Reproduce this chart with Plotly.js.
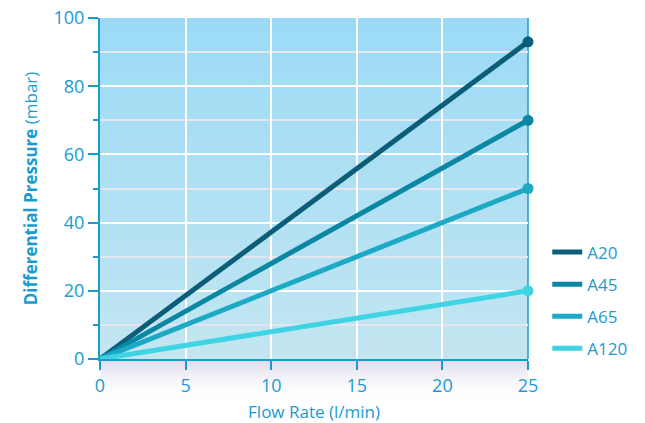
<!DOCTYPE html>
<html><head><meta charset="utf-8">
<script src="https://cdn.plot.ly/plotly-3.0.1.min.js"></script>
<style>html,body{margin:0;padding:0;background:#fff}#c{width:645px;height:423px}</style>
</head><body><div id="c"></div>
<script>
const flowRate = [0, 25];
const seriesNames = ['A20', 'A45', 'A65', 'A120'];
const A20 = [0, 93];
const A45 = [0, 70];
const A65 = [0, 50];
const A120 = [0, 20];
const seriesValues = [A20, A45, A65, A120];
const colors = ['#0b5d78', '#0b87a3', '#1ba9c5', '#3fd4e4'];
const xTicks = [0, 5, 10, 15, 20, 25];
const yTicks = [0, 20, 40, 60, 80, 100];

const axisBlue = '#1a9bd0';
const traces = [];
seriesNames.forEach((n, i) => {
  traces.push({
    x: flowRate, y: seriesValues[i], name: n, type: 'scatter', mode: 'lines',
    legendgroup: n, line: {color: colors[i], width: 5}, cliponaxis: false
  });
});
seriesNames.forEach((n, i) => {
  traces.push({
    x: flowRate.slice(-1), y: seriesValues[i].slice(-1), name: n, type: 'scatter', mode: 'markers',
    legendgroup: n, showlegend: false,
    marker: {color: colors[i], size: 11, line: {width: 0}}, cliponaxis: false
  });
});

const grad = 'data:image/svg+xml;base64,' + btoa('<svg xmlns="http://www.w3.org/2000/svg" width="100" height="100" preserveAspectRatio="none"><defs><linearGradient id="g" x1="0" y1="0" x2="0" y2="1"><stop offset="0" stop-color="#9bdaf6"/><stop offset="1" stop-color="#c3e6f1"/></linearGradient></defs><rect width="100" height="100" fill="url(#g)"/></svg>');
const shade = 'data:image/svg+xml;base64,' + btoa('<svg xmlns="http://www.w3.org/2000/svg" width="100" height="100" preserveAspectRatio="none"><defs><linearGradient id="g" x1="0" y1="0" x2="0" y2="1"><stop offset="0" stop-color="#dcd8ea"/><stop offset="1" stop-color="#ffffff" stop-opacity="0"/></linearGradient></defs><rect width="100" height="100" fill="url(#g)"/></svg>');

const layout = {
  width: 645, height: 423,
  margin: {l: 100, r: 117, t: 18, b: 64},
  paper_bgcolor: '#ffffff', plot_bgcolor: 'rgba(0,0,0,0)',
  font: {family: 'Open Sans, sans-serif', size: 17, color: axisBlue},
  showlegend: true,
  legend: {x: 1.045, xanchor: 'left', y: -0.022, yanchor: 'bottom', font: {size: 17, color: axisBlue},
           tracegroupgap: 7, itemwidth: 30, bgcolor: 'rgba(0,0,0,0)'},
  xaxis: {range: [0, 25], tickvals: xTicks, ticks: 'outside', ticklen: 9, tickwidth: 2, tickcolor: axisBlue,
          showline: true, linecolor: axisBlue, linewidth: 2, mirror: false, zeroline: false,
          showgrid: true, gridcolor: '#ffffff', gridwidth: 2,
          tickfont: {size: 18, color: axisBlue},
          title: {text: 'Flow Rate (l/min)', font: {size: 17, color: axisBlue}, standoff: 12}},
  yaxis: {range: [0, 100], tickvals: yTicks, ticks: 'outside', ticklen: 10, tickwidth: 2, tickcolor: axisBlue,
          showline: true, linecolor: axisBlue, linewidth: 2, zeroline: false,
          showgrid: true, gridcolor: '#ffffff', gridwidth: 2,
          minor: {dtick: 10, ticks: 'outside', ticklen: 5, tickwidth: 2, tickcolor: axisBlue, showgrid: true, gridcolor: '#e3e6ef', gridwidth: 2},
          tickfont: {size: 18, color: axisBlue},
          title: {text: '<b>Differential Pressure</b> (mbar)', font: {size: 17, color: axisBlue}, standoff: 12}},
  images: [
    {source: grad, xref: 'paper', yref: 'paper', x: 0, y: 1, sizex: 1, sizey: 1, sizing: 'stretch', layer: 'below', xanchor: 'left', yanchor: 'top'},
    {source: shade, xref: 'paper', yref: 'paper', x: 0, y: 0, sizex: 1, sizey: 0.13, sizing: 'stretch', layer: 'below', xanchor: 'left', yanchor: 'top'}
  ],
  shapes: [{type: 'line', xref: 'paper', yref: 'paper', x0: 1, x1: 1, y0: 0, y1: 1, line: {color: axisBlue, width: 1.5}, layer: 'below'}]
};
Plotly.newPlot('c', traces, layout, {displayModeBar: false, staticPlot: true});
</script></body></html>
